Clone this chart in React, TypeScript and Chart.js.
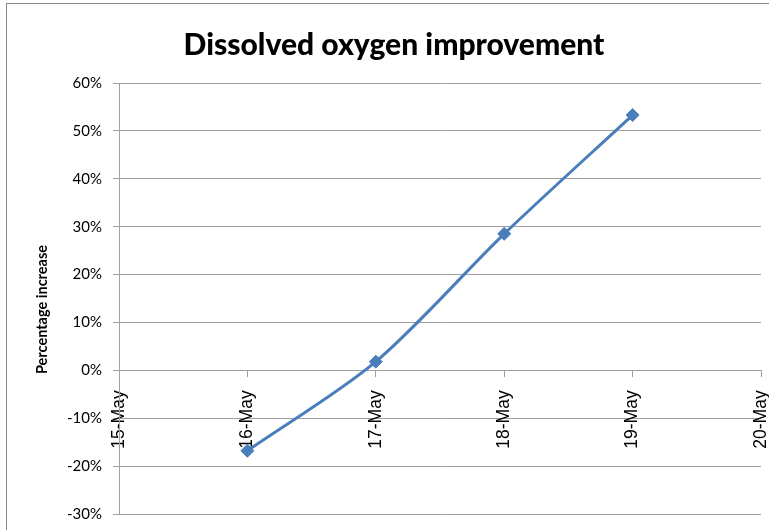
import { useEffect, useRef } from "react";
import { Chart, registerables } from "chart.js";

Chart.register(...registerables);

const categories = ["15-May", "16-May", "17-May", "18-May", "19-May", "20-May"];
const increasePct: (number | null)[] = [null, -16.8, 1.8, 28.5, 53.3, null];
const yMin = -30;
const yMax = 60;
const yStep = 10;
const titleText = "Dissolved oxygen improvement";
const yTitleText = "Percentage increase";

const LINE_BLUE = "#4A7EBB";
const GRID = "#a0a0a0";

const yTitlePlugin = {
  id: "yTitleCustom",
  afterDraw(chart: any) {
    const { ctx, chartArea } = chart;
    ctx.save();
    ctx.translate(42, (chartArea.top + chartArea.bottom) / 2 + 11);
    ctx.rotate(-Math.PI / 2);
    ctx.font = "bold 14.5px Lato";
    ctx.fillStyle = "#000";
    ctx.textAlign = "center";
    ctx.textBaseline = "middle";
    ctx.fillText(yTitleText, 0, 0);
    ctx.restore();
  },
};

export default function App() {
  const ref = useRef<HTMLCanvasElement | null>(null);
  useEffect(() => {
    if (!ref.current) return;
    const chart = new Chart(ref.current, {
      type: "line",
      data: {
        labels: categories,
        datasets: [
          {
            label: "Increase",
            data: increasePct,
            borderColor: LINE_BLUE,
            backgroundColor: LINE_BLUE,
            borderWidth: 3,
            tension: 0.3,
            pointStyle: "rectRot",
            pointRadius: 6.5,
            pointBackgroundColor: LINE_BLUE,
            pointBorderColor: LINE_BLUE,
            pointBorderWidth: 1,
            fill: false,
          },
        ],
      },
      options: {
        responsive: false,
        animation: false,
        layout: { padding: { left: 27, right: 8, top: 0, bottom: 16 } },
        plugins: {
          legend: { display: false },
          tooltip: { enabled: false },
          title: {
            display: true,
            text: titleText,
            color: "#000",
            font: { family: "Lato", size: 30, weight: "900", lineHeight: 1.2 },
            padding: { top: 27, bottom: 20 },
          },
        },
        scales: {
          x: {
            type: "category",
            position: { y: 0 } as any,
            offset: false,
            afterFit(scale: any) {
              scale.paddingLeft = 0;
              scale.paddingRight = 0;
              scale.paddingTop = 0;
              scale.paddingBottom = 0;
            },
            grid: {
              drawOnChartArea: false,
              drawTicks: true,
              tickLength: 6,
              color: GRID,
            },
            border: { color: GRID, width: 1 },
            ticks: {
              autoSkip: false,
              minRotation: 90,
              maxRotation: 90,
              padding: 14,
              color: "#000",
              font: { family: "Liberation Sans", size: 17.5 },
            },
          },
          y: {
            type: "linear",
            min: yMin,
            max: yMax,
            afterFit(scale: any) {
              scale.width = 92;
              scale.paddingTop = 0;
              scale.paddingBottom = 0;
            },
            grid: { color: GRID, tickLength: 6, lineWidth: 1 },
            border: { color: GRID, width: 1 },
            ticks: {
              stepSize: yStep,
              padding: 11,
              color: "#000",
              font: { family: "Lato", size: 15 },
              callback: (v: any) => `${v}%`,
            },
          },
        },
      },
      plugins: [yTitlePlugin],
    });
    return () => chart.destroy();
  }, []);

  return (
    <div
      style={{
        position: "fixed",
        left: 0,
        top: 0,
        width: 769,
        height: 530,
        overflow: "hidden",
        background: "#fff",
      }}
    >
      <div
        style={{
          position: "absolute",
          left: 6,
          top: 3,
          width: 1000,
          height: 1000,
          border: "1px solid #868686",
        }}
      />
      <canvas ref={ref} width={769} height={530} style={{ position: "absolute", left: 0, top: 0 }} />
    </div>
  );
}
